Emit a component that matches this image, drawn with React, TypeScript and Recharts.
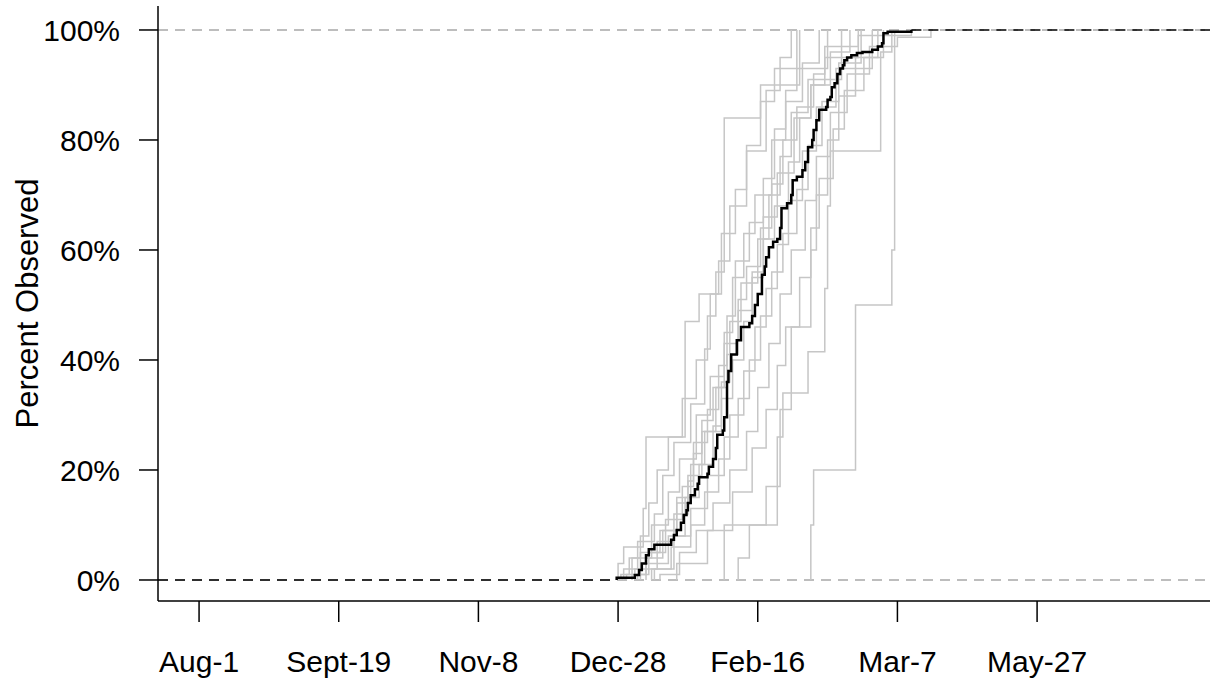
import { LineChart, Line, XAxis, YAxis, ReferenceLine } from "recharts"

// x axis is days since Aug-1, ticks every 50 days
const tickDays = [0, 50, 100, 150, 200, 250, 300]
const tickLabels = ["Aug-1", "Sept-19", "Nov-8", "Dec-28", "Feb-16", "Mar-7", "May-27"]
const pctTicks = [0, 20, 40, 60, 80, 100]

// pooled curve (black)
const pooledDays = [
  149.5, 156, 157.5, 158.5, 160, 161, 163, 169, 170, 171, 172.5, 173.5, 174.5, 175, 176, 177.5, 178.5, 179,
  182, 182.5, 184, 185, 185.5, 187.5, 188, 189, 189.5, 190.5, 192.5, 194, 197, 198, 199, 200, 201.5, 202.5,
  203, 204, 205.5, 207, 208, 208.5, 210.5, 212, 212.5, 214, 216, 217, 218, 219.5, 220, 221, 222, 224.5, 225,
  226, 226.5, 227.5, 228.5, 229.5, 230.5, 231, 232, 233.5, 235.5, 237.5, 241, 243, 244.5, 245, 246.5, 255,
]
const pooledPct = [
  0.4, 0.9, 1.8, 3.0, 4.5, 5.6, 6.4, 7.3, 8.2, 9.1, 10.4, 11.8, 12.7, 14.0, 15.4, 16.5, 17.5, 18.7, 19.3, 20.6,
  22.0, 24.0, 26.4, 27.2, 29.6, 36.0, 38.0, 41.0, 43.6, 46.0, 46.7, 48.0, 50.0, 52.0, 55.5, 57.0, 58.7, 60.5,
  61.5, 62.0, 64.0, 67.6, 68.5, 70.0, 72.7, 73.3, 74.5, 76.0, 78.7, 80.0, 81.8, 83.6, 85.5, 86.0, 87.3, 87.8,
  89.6, 90.3, 92.0, 93.0, 93.6, 94.5, 95.0, 95.4, 95.8, 96.0, 96.4, 97.0, 97.6, 99.4, 99.7, 100,
]

// individual curves (grey)
const grayDays: number[][] = [
  [150, 152, 159, 160, 174, 179, 187, 188, 201, 215],
  [152, 157, 163, 166, 170, 176, 181, 183, 186, 190, 196, 203, 208, 212],
  [155, 162, 168, 172, 178, 183, 188, 191, 195, 199, 205, 210, 216, 222],
  [158, 165, 171, 175, 180, 185, 189, 193, 198, 202, 207, 213, 219, 226, 233],
  [160, 168, 174, 179, 184, 187, 190, 194, 200, 204, 208, 212, 218, 230],
  [156, 164, 170, 175, 177, 182, 186, 189, 192, 197, 202, 206, 210, 214, 225],
  [162, 169, 176, 181, 186, 190, 195, 199, 203, 207, 211, 216, 221, 228, 241],
  [165, 172, 178, 184, 190, 196, 200, 204, 208, 212, 217, 221, 226, 232, 240, 250, 262],
  [188, 207, 209, 218, 224, 225, 226, 244, 248],
  [219, 220, 235, 248, 249],
  [171, 182, 191, 198, 203, 207, 210, 215, 219, 222, 227, 231, 238, 245],
  [193, 197, 203, 208, 212, 219, 221, 225, 229, 235, 243],
  [151, 154, 158, 161, 164, 168, 173, 178, 182, 185, 188, 192, 196, 201, 206, 214],
  [157, 161, 167, 173, 177, 180, 184, 188, 193, 196, 201, 205, 209, 214, 220, 224, 236, 255],
  [163, 170, 176, 182, 188, 193, 197, 201, 205, 209, 214, 218, 223, 229, 237],
  [153, 160, 166, 171, 176, 181, 187, 191, 195, 198, 202, 206, 211, 215, 219, 224, 236],
]
const grayPct: number[][] = [
  [3, 6, 13, 26, 47, 52, 63, 84, 90, 100],
  [2, 7, 12, 19, 25, 32, 42, 52, 58, 68, 78, 89, 95, 100],
  [4, 10, 16, 22, 30, 37, 45, 55, 63, 70, 80, 87, 94, 100],
  [5, 9, 14, 19, 27, 35, 41, 49, 56, 66, 74, 84, 90, 96, 100],
  [3, 8, 15, 21, 28, 36, 47, 54, 62, 70, 77, 85, 91, 100],
  [2, 7, 12, 18, 25, 31, 39, 48, 58, 65, 73, 82, 89, 93, 100],
  [2, 6, 10, 16, 22, 30, 38, 46, 53, 61, 69, 78, 86, 93, 100],
  [1, 5, 9, 14, 20, 27, 35, 43, 52, 60, 69, 77, 85, 92, 97, 98.7, 100],
  [10, 26, 34, 41.5, 53, 68, 78, 96, 100],
  [10, 20, 50, 60, 100],
  [3, 9, 16, 24, 31, 39, 46, 55, 64, 73, 82, 89, 95, 100],
  [4, 10, 17, 31, 46, 60, 70, 80, 88, 95, 100],
  [1, 4, 8, 14, 20, 26, 33, 40, 48, 56, 63, 71, 79, 87, 93, 100],
  [1, 5, 11, 17, 23, 29, 35, 43, 51, 57, 64, 72, 80, 86, 92, 97, 99, 100],
  [2, 8, 13, 19, 26, 33, 40, 48, 56, 63, 71, 79, 87, 94, 100],
  [1, 4, 9, 15, 21, 27, 33, 40, 47, 55, 62, 68, 76, 84, 90, 95, 100],
]

const X_MIN = -14.7
const X_MAX = 361.9
const FONT = "'Liberation Sans', Arial, sans-serif"

// step rows, starting from 0 at the first jump
const toSteps = (days: number[], pct: number[]) => [
  { x: days[0], y: 0 },
  ...days.map((d, i) => ({ x: d, y: pct[i] })),
]

export default function App() {
  const pooled = toSteps(pooledDays, pooledPct)
  const lead = [{ x: X_MIN, y: 0 }, { x: pooledDays[0], y: 0 }]
  const tail = [{ x: pooledDays[pooledDays.length - 1], y: 100 }, { x: X_MAX, y: 100 }]

  return (
    <div style={{ position: "absolute", left: 0, top: 0, width: 1210, height: 680, background: "#fff" }}>
      <LineChart width={1210} height={680} margin={{ top: 6, right: 0, bottom: 0, left: 0 }}>
        <XAxis
          dataKey="x"
          type="number"
          domain={[X_MIN, X_MAX]}
          allowDataOverflow
          ticks={tickDays}
          tickFormatter={(v: number) => tickLabels[tickDays.indexOf(v)] ?? ""}
          height={79}
          tickSize={21}
          tickMargin={29}
          axisLine={{ stroke: "#000", strokeWidth: 1.5 }}
          tickLine={{ stroke: "#000", strokeWidth: 1.5 }}
          tick={{ fill: "#000", fontSize: 30, fontFamily: FONT }}
        />
        <YAxis
          type="number"
          domain={[-3.82, 104.36]}
          allowDataOverflow
          ticks={pctTicks}
          tickFormatter={(v: number) => `${v}%`}
          width={158}
          tickSize={19}
          tickMargin={19}
          axisLine={{ stroke: "#000", strokeWidth: 1.5 }}
          tickLine={{ stroke: "#000", strokeWidth: 1.5 }}
          tick={{ fill: "#000", fontSize: 30, fontFamily: FONT }}
          label={{
            value: "Percent Observed",
            angle: -90,
            position: "insideLeft",
            offset: 27,
            style: { textAnchor: "middle", fontSize: 31, fontFamily: FONT, fill: "#000" },
          }}
        />
        <ReferenceLine y={0} stroke="#a8a8a8" strokeWidth={1.5} strokeDasharray="10 7" />
        <ReferenceLine y={100} stroke="#a8a8a8" strokeWidth={1.5} strokeDasharray="10 7" />
        {grayDays.map((days, i) => (
          <Line
            key={i}
            data={toSteps(days, grayPct[i])}
            dataKey="y"
            type="stepAfter"
            stroke="#c6c6c6"
            strokeWidth={1.5}
            dot={false}
            activeDot={false}
            isAnimationActive={false}
          />
        ))}
        <Line data={lead} dataKey="y" stroke="#000" strokeWidth={1.5} strokeDasharray="10 7" dot={false} activeDot={false} isAnimationActive={false} />
        <Line data={tail} dataKey="y" stroke="#000" strokeWidth={1.5} strokeDasharray="10 7" dot={false} activeDot={false} isAnimationActive={false} />
        <Line
          data={pooled}
          dataKey="y"
          type="stepAfter"
          stroke="#000"
          strokeWidth={2.5}
          dot={false}
          activeDot={false}
          isAnimationActive={false}
        />
      </LineChart>
    </div>
  )
}
